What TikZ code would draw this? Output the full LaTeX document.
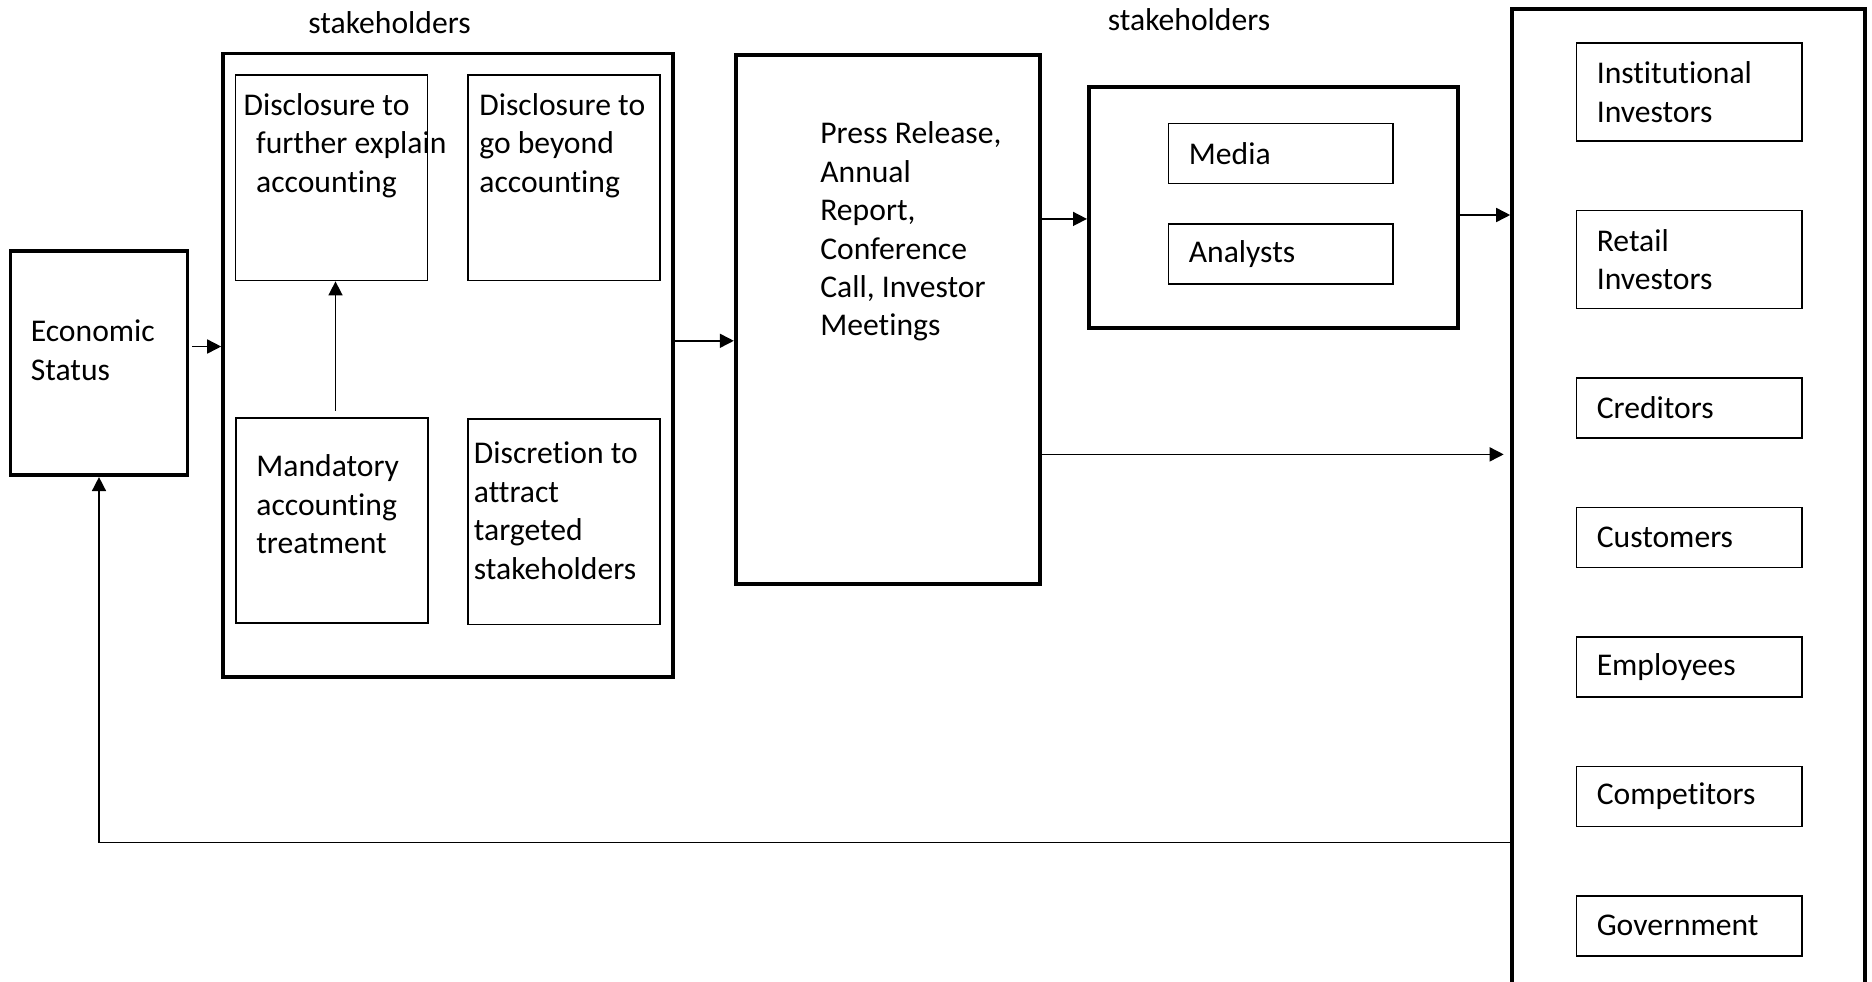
\documentclass[tikz,border=0pt]{standalone}
\usepackage{fontspec}
\setmainfont[Ligatures=NoCommon]{Carlito}
\usetikzlibrary{arrows.meta,positioning}

\tikzset{
	every node/.style={font=\fontsize{18}{21.9}\selectfont},
	bigbox/.style={draw, line width=2.1pt, inner sep=0},
	smallbox/.style={draw, line width=0.85pt, inner sep=0, minimum width=3.84cm, minimum height=4.11cm},
	namebox/.style={draw, line width=0.85pt, align=left, inner xsep=0.41cm, text width=3.69cm, minimum width=4.51cm, minimum height=1.2cm},
	txt/.style={anchor=north west, inner sep=0, align=left},
	arr/.style={line width=0.9pt, -{Triangle[length=0.28cm,width=0.28cm]}}
}

\begin{document}
\begin{tikzpicture}[x=0.02cm,y=-0.02cm]
	\useasboundingbox (0,0) rectangle (1872,981);
	\clip (0,0) rectangle (1872,981);

	\node[bigbox, minimum width=3.54cm, minimum height=4.49cm] (econ) at (99,363) {};
	\node[txt] (econtxt) at (30.5,314.7) {\strut Economic\\Status};

	\node[bigbox, minimum width=9cm, minimum height=12.48cm] (discl) at (448,365.3) {};
	\node[anchor=base] (disclhead) at (389.5,33) {stakeholders};
	\node[smallbox] (explain) at (331.7,177.9) {};
	\node[smallbox] (beyond) at (563.9,177.9) {};
	\node[smallbox] (mandatory) at (332,520.5) {};
	\node[smallbox] (discretion) at (564,521.7) {};
	\node[txt] (explaintxt) at (243.3,88) {\strut Disclosure to\\\hspace*{0.25cm}further explain\\\hspace*{0.25cm}accounting};
	\node[txt] (beyondtxt) at (479,88) {\strut Disclosure to\\go beyond\\accounting};
	\node[txt] (mandatorytxt) at (256,449.7) {\strut Mandatory\\accounting\\treatment};
	\node[txt] (discretiontxt) at (473.6,436.3) {\strut Discretion to\\attract\\targeted\\stakeholders};

	\node[bigbox, minimum width=6.09cm, minimum height=10.58cm] (channels) at (887.9,319.4) {};
	\node[txt] (channelstxt) at (820,116.3) {\strut Press Release,\\Annual\\Report,\\Conference\\Call, Investor\\Meetings};

	\node[bigbox, minimum width=7.38cm, minimum height=4.81cm] (inter) at (1273.3,207.5) {};
	\node[anchor=base] (interhead) at (1189,30) {stakeholders};
	\node[namebox, inner xsep=0.41cm, text width=3.67cm, minimum width=4.49cm] (media) at (1280.6,153.3) {Media};
	\node[namebox, inner xsep=0.41cm, text width=3.67cm, minimum width=4.49cm, below=0.78cm of media] (analysts) {Analysts};

	\node[bigbox, minimum width=7.06cm, minimum height=19.82cm] (stake) at (1688.5,504.5) {};
	\node[namebox, minimum height=1.96cm] (inst) at (1689,92) {Institutional\\Investors};
	\node[namebox, minimum height=1.96cm, below=1.36cm of inst] (retail) {Retail\\Investors};
	\node[namebox, below=1.36cm of retail] (creditors) {Creditors};
	\node[namebox, below=1.36cm of creditors] (customers) {Customers};
	\node[namebox, below=1.36cm of customers] (employees) {Employees};
	\node[namebox, below=1.36cm of employees] (competitors) {Competitors};
	\node[namebox, below=1.36cm of competitors] (government) {Government};

	\draw[arr] ([xshift=0.06cm,yshift=0.33cm]econ.east) coordinate (a1) -- (a1 -| discl.west);
	\draw[arr] ([xshift=0.07cm,yshift=0.13cm]mandatory.north) coordinate (a2) -- (a2 |- explain.south);
	\draw[arr] ([yshift=0.49cm]discl.east) coordinate (a3) -- (a3 -| channels.west);
	\draw[arr] ([yshift=2.01cm]channels.east) coordinate (a4) -- (a4 -| inter.west);
	\draw[arr] ([yshift=-0.15cm]inter.east) coordinate (a5) -- (a5 -| stake.west);
	\draw[arr] ([yshift=-2.7cm]channels.east) coordinate (a6) -- ([xshift=-0.13cm]a6 -| stake.west);
	\draw[arr] ([yshift=-6.76cm]stake.west) coordinate (a7) -- (a7 -| econ.south) -- (econ.south);
\end{tikzpicture}
\end{document}
